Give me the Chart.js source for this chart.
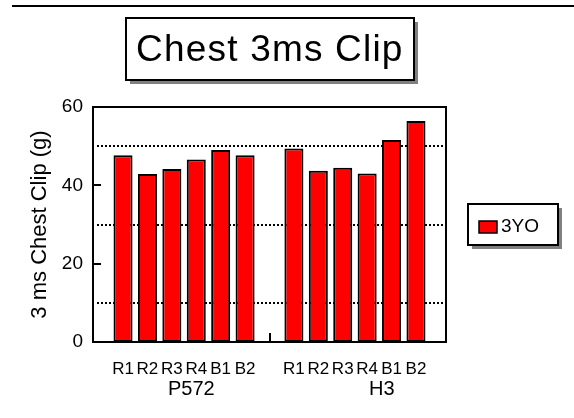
<!DOCTYPE html>
<html>
<head>
<meta charset="utf-8">
<title>Chest 3ms Clip</title>
<script src="https://cdn.jsdelivr.net/npm/chart.js@4.4.1/dist/chart.umd.min.js"></script>
<style>
  body { margin: 0; background: #fff; }
  #wrap { width: 574px; height: 418px; }
</style>
</head>
<body>
<div id="wrap"><canvas id="myChart"></canvas></div>
<script>
'use strict';

// TEXT
let chartTitle = 'Chest 3ms Clip';
let yTitle = '3 ms Chest Clip (g)';
let seriesName = '3YO';

// CATEGORIES - two groups of six tests, one empty slot between them
let testLabels = ['R1', 'R2', 'R3', 'R4', 'B1', 'B2', 'R1', 'R2', 'R3', 'R4', 'B1', 'B2'];
let testSlots = [0, 1, 2, 3, 4, 5, 7, 8, 9, 10, 11, 12];
let groupLabels = ['P572', 'H3'];
let groupSlots = [2.8, 10.6];
let groupSplit = 6;

// VALUES
let clipValues = [47.7, 42.9, 44.2, 46.6, 49.0, 47.7, 49.4, 43.7, 44.5, 43.0, 51.6, 56.4];

// Y AXIS
let yTicks = [0, 20, 40, 60];
let dottedAt = [10, 30, 50];

let fontName = '"Liberation Sans", Arial, sans-serif';
Chart.defaults.font.family = fontName;
Chart.defaults.color = '#000';

// extra drawing: top rule, dotted lines, frame, inner ticks, title box, legend box
const decorations = {
  id: 'decorations',
  beforeDraw(chart) {
    let ctx = chart.ctx;
    let area = chart.chartArea;
    let y = chart.scales.y;
    ctx.save();
    ctx.fillStyle = '#fff';
    ctx.fillRect(0, 0, chart.width, chart.height);
    ctx.strokeStyle = '#000';
    ctx.lineWidth = 2;
    ctx.beginPath();
    ctx.moveTo(12, 6);
    ctx.lineTo(chart.width, 6);
    ctx.stroke();

    ctx.setLineDash([2, 2]);
    for (let i = 0; i < dottedAt.length; i++) {
      let py = Math.round(y.getPixelForValue(dottedAt[i]));
      ctx.beginPath();
      ctx.moveTo(area.left + 4, py);
      ctx.lineTo(area.right, py);
      ctx.stroke();
    }
    ctx.restore();
  },
  afterDraw(chart) {
    let ctx = chart.ctx;
    let area = chart.chartArea;
    let x = chart.scales.x;
    let y = chart.scales.y;
    ctx.save();
    ctx.strokeStyle = '#000';
    ctx.lineWidth = 2;

    // frame
    ctx.strokeRect(area.left, area.top, area.right - area.left, area.bottom - area.top);

    // inner tick marks
    for (let i = 0; i < yTicks.length; i++) {
      let py = Math.round(y.getPixelForValue(yTicks[i]));
      ctx.beginPath();
      ctx.moveTo(area.left, py);
      ctx.lineTo(area.left + 8, py);
      ctx.stroke();
    }
    let px = Math.round(x.getPixelForValue(groupSplit));
    ctx.beginPath();
    ctx.moveTo(px, area.bottom);
    ctx.lineTo(px, area.bottom - 9);
    ctx.stroke();

    // title box
    ctx.font = '37px ' + fontName;
    ctx.letterSpacing = '1.2px';
    let tw = ctx.measureText(chartTitle).width;
    let cx = (area.left + area.right) / 2;
    let bw = Math.round(tw + 20);
    let bh = 62;
    let bx = Math.round(cx - bw / 2);
    let by = 18;
    ctx.fillStyle = '#808080';
    ctx.fillRect(bx + 4, by + 4, bw, bh);
    ctx.fillStyle = '#fff';
    ctx.fillRect(bx, by, bw, bh);
    ctx.strokeRect(bx, by, bw, bh);
    ctx.fillStyle = '#000';
    ctx.textAlign = 'left';
    ctx.textBaseline = 'middle';
    ctx.fillText(chartTitle, bx + 10, by + bh / 2 + 2);
    ctx.letterSpacing = '0px';

    // legend box
    let ds = chart.data.datasets[0];
    let lx = area.right + 22;
    let lw = 90;
    let lh = 41;
    let ly = Math.round((area.top + area.bottom) / 2 - lh / 2);
    ctx.fillStyle = '#808080';
    ctx.fillRect(lx + 4, ly + 4, lw, lh);
    ctx.fillStyle = '#fff';
    ctx.fillRect(lx, ly, lw, lh);
    ctx.strokeRect(lx, ly, lw, lh);
    ctx.fillStyle = ds.backgroundColor;
    ctx.fillRect(lx + 11, ly + 17, 18, 12);
    ctx.lineWidth = 1.5;
    ctx.strokeRect(lx + 11, ly + 17, 18, 12);
    ctx.fillStyle = '#000';
    ctx.font = '19px ' + fontName;
    ctx.fillText(ds.label, lx + 33, ly + 23);
    ctx.restore();
  }
};

const data = {
  datasets: [
    {
      label: seriesName,
      data: testSlots.map((s, i) => ({ x: s, y: clipValues[i] })),
      backgroundColor: '#FF0000',
      borderColor: '#000',
      borderWidth: 2,
      borderSkipped: false,
      categoryPercentage: 1,
      barPercentage: 0.78
    }
  ]
};

const config = {
  type: 'bar',
  data: data,
  options: {
    responsive: true,
    maintainAspectRatio: false,
    animation: false,
    layout: {
      padding: { top: 107, left: 20, right: 128, bottom: 16 }
    },
    plugins: {
      legend: { display: false },
      title: { display: false },
      tooltip: { enabled: false }
    },
    scales: {
      x: {
        type: 'linear',
        min: -1.23,
        max: 13.23,
        offset: false,
        grid: { display: false, drawTicks: false, offset: false },
        border: { display: false },
        afterBuildTicks: axis => {
          axis.ticks = testSlots.map(v => ({ value: v }));
        },
        afterFit: axis => {
          axis.height = 34;
        },
        ticks: {
          autoSkip: false,
          maxRotation: 0,
          padding: 17,
          font: { size: 17 },
          callback: (value, index) => testLabels[index]
        }
      },
      x2: {
        type: 'linear',
        position: 'bottom',
        weight: 1,
        min: -1.23,
        max: 13.23,
        offset: false,
        grid: { display: false, drawTicks: false, offset: false },
        border: { display: false },
        afterBuildTicks: axis => {
          axis.ticks = groupSlots.map(v => ({ value: v }));
        },
        afterFit: axis => {
          axis.height = 26;
        },
        ticks: {
          autoSkip: false,
          maxRotation: 0,
          padding: 1,
          font: { size: 20 },
          callback: (value, index) => groupLabels[index]
        }
      },
      y: {
        min: 0,
        max: 60,
        grid: { display: false, drawTicks: false },
        border: { display: false },
        afterBuildTicks: axis => {
          axis.ticks = yTicks.map(v => ({ value: v }));
        },
        afterFit: axis => {
          axis.width = 73;
        },
        ticks: {
          padding: 10,
          font: { size: 19 }
        },
        title: {
          display: true,
          text: yTitle,
          font: { size: 22 },
          padding: { top: 7, bottom: 0 }
        }
      }
    }
  },
  plugins: [decorations]
};

const myChart = new Chart(document.getElementById('myChart'), config);
</script>
</body>
</html>
